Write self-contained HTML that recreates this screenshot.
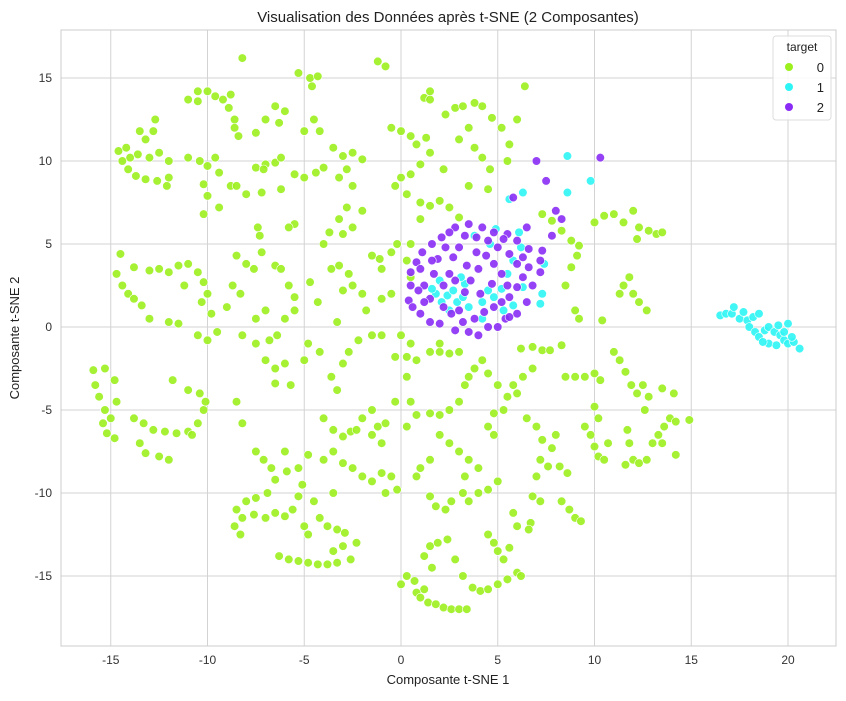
<!DOCTYPE html>
<html><head><meta charset="utf-8"><style>
body{margin:0;background:#fff;font-family:"Liberation Sans",Arial,sans-serif;}
svg text{font-family:"Liberation Sans",Arial,sans-serif;}
</style></head><body>
<svg id="chart" width="846" height="696" xmlns="http://www.w3.org/2000/svg">
<rect width="846" height="696" fill="#fff"/>
<text x="448" y="22" text-anchor="middle" font-size="15" fill="#222">Visualisation des Données après t-SNE (2 Composantes)</text>
<text x="448" y="684" text-anchor="middle" font-size="13" fill="#222">Composante t-SNE 1</text>
<text x="19" y="338" text-anchor="middle" font-size="13" fill="#222" transform="rotate(-90 19 338)">Composante t-SNE 2</text>
<g id="grid"></g><g id="ticks"></g><g id="pts"></g>
<rect x="61" y="30" width="775" height="616" fill="none" stroke="#ccc" stroke-width="1"/>
<g>
<rect x="773" y="36" width="58" height="84" rx="3" fill="#fff" fill-opacity="0.85" stroke="#ddd"/>
<text x="802" y="51" text-anchor="middle" font-size="12" fill="#222">target</text>
<circle cx="789" cy="67" r="4" fill="#9cf01e"/><text x="824" y="72" text-anchor="end" font-size="13" fill="#222">0</text>
<circle cx="789" cy="87" r="4" fill="#2ef5f5"/><text x="824" y="92" text-anchor="end" font-size="13" fill="#222">1</text>
<circle cx="789" cy="107" r="4" fill="#8a2cf5"/><text x="824" y="112" text-anchor="end" font-size="13" fill="#222">2</text>
</g>
</svg>
<script>
const xTicks=[-15,-10,-5,0,5,10,15,20];
const yTicks=[-15,-10,-5,0,5,10,15];
const green=[[-14.6,10.6],[-14.4,10],[-14.1,9.5],[-13.7,9.1],[-13.2,8.9],[-12.6,8.8],[-12.1,8.5],[-14.2,10.8],[-13.6,10.4],[-13,10.2],[-12.5,10.5],[-13.2,11.3],[-12.8,11.8],[-12.7,12.5],[-13.5,11.8],[-14,10.2],[-12,10],
[-11,13.7],[-10.5,14.2],[-10,14.2],[-9.6,13.9],[-9.2,13.7],[-8.9,13.2],[-8.6,12.5],[-8.4,11.5],[-8.6,12],[-8.8,14],[-8.2,16.2],[-10.5,13.6],
[-11,10.2],[-10.4,10],[-10,9.7],[-9.6,10.2],[-10.2,8.6],[-10,7.9],[-10.2,6.8],[-9.4,7.2],[-8.8,8.5],[-8,8],
[-7.5,9.6],[-7,9.8],[-6.5,9.9],[-6.2,10.2],[-7.1,9.5],[-5.5,9.2],[-5,9],[-4.4,9.3],[-4,9.6],[-7.2,8.1],[-6.2,8.3],
[-5.3,15.3],[-4.7,15],[-4.3,15.1],[-4.6,14.5],[-6.5,13.3],[-6,13],[-6.3,12.3],[-7.5,11.7],[-7,12.5],
[-4.2,11.8],[-3.5,10.8],[-3,10.3],[-2.5,10.5],[-2,10.1],[-2.8,9.5],[-3.2,9],[-2.5,8.5],[-2,7],[-2.8,7.2],[-3.2,6.5],[-3.7,5.7],[-4,5],[-2.5,6],
[-1.2,16],[-0.8,15.7],[-0.5,12],[0,11.8],[0.5,11.5],[0.8,11],[1.3,11.4],[0,9],[0.5,9.2],[0.3,8],[-0.3,8.5],[1,9.8],[1.5,10.5],
[1.2,13.8],[1.5,14.2],[1.5,13.7],[2.3,12.8],[2.8,13.2],[3.2,13.3],[3.8,13.5],[4.2,13.3],[4.7,12.6],[5.2,12],[5.6,11],[3,11.3],[3.8,10.8],[4.6,9.5],[4.2,10.2],[3.5,12],[6.4,14.5],[6,12.5],[5.5,10],
[1,7.5],[1.5,7.3],[2,7.6],[2.5,7.2],[3,6.6],[-0.2,5],[0.5,5],[0.3,4],[-0.5,4.5],[0.5,3],[1,6.5],
[7.3,6.8],[7.8,6.4],[8.3,5.8],[8.8,5.2],[9.2,4.9],[9.1,4.3],[8.8,3.6],[10,6.3],[10.5,6.7],[11,6.8],[11.5,6.3],[12,7],[12.3,6],[12.8,5.8],[13.2,5.6],[13.5,5.7],[12.2,5.3],[11.8,3],[11.5,2.5],[12,2],[12.3,1.5],[12.7,1],[11.3,2],[10.4,0.4],[9,1],[9.2,0.5],[8.5,2.5],
[-14.7,3.2],[-14.4,2.5],[-14.1,2],[-13.8,1.7],[-13.4,1.3],[-13,0.5],[-14.5,4.4],[-13.8,3.6],[-13,3.4],[-12.5,3.5],[-12,3.3],[-11.5,3.7],[-11,3.8],[-10.5,3.3],[-10.2,2.7],[-10,2],[-10.3,1.5],[-11.2,2.5],[-12,0.3],[-11.5,0.2],[-10.5,-0.5],[-10,-0.8],[-9.5,-0.3],[-9.8,0.8],
[-8.5,4.3],[-8,3.8],[-7.6,3.5],[-7.3,5.5],[-7.4,6],[-7.2,4.5],[-6.5,3.7],[-6.2,3.5],[-5.8,2.5],[-5.5,1.8],[-5.5,1],[-6,0.5],[-7,1],[-7.5,0.5],[-8.3,2],[-8.7,2.5],[-9,1.2],[-8.2,-0.5],[-7.5,-1],[-6.8,-0.8],[-6.4,-0.5],[-4.3,1.5],[-4.7,2.7],
[-3.6,3.5],[-3.2,3.7],[-2.7,3.2],[-2.5,2.5],[-3,2.2],[-2,2],[-1.8,1],[-1,1.7],[-1,3.5],[-3.3,0.3],[-2.2,-0.8],[-1.5,-0.5],
[-15.8,-3.5],[-15.6,-4.2],[-15.3,-5],[-15.4,-5.8],[-15.2,-6.4],[-14.8,-6.7],[-15.9,-2.6],[-15.3,-2.5],[-14.8,-3.2],[-14.7,-4.5],[-15,-5.5],
[-13.8,-5.5],[-13.3,-5.8],[-12.8,-6.2],[-12.2,-6.3],[-11.6,-6.4],[-11,-6.3],[-10.5,-5.8],[-10.2,-5],[-10.1,-4.5],[-10.4,-4],[-11,-3.8],[-11.8,-3.2],[-13.5,-7],[-13.2,-7.6],[-12.5,-7.8],[-12,-8],[-10.8,-6.5],
[-8.5,-4.5],[-8.2,-5.8],[-7,-2],[-6.5,-2.5],[-6,-2.2],[-5.7,-3.5],[-6.5,-3.4],[-5,-2],[-4.8,-1],[-4.2,-1.5],[-3.6,-3],[-3.3,-3.8],[-3,-2.2],[-2.7,-1.5],
[-4,-5.5],[-3.5,-6.2],[-3,-6.6],[-2.6,-6.3],[-2,-5.5],[-1.5,-5],[-1.2,-6],[-1,-7],[-0.8,-5.8],[-1.5,-6.5],
[-7.5,-7.5],[-7.1,-8],[-6.7,-8.5],[-6.5,-9.2],[-6.9,-10],[-7.5,-10.3],[-8,-10.5],[-8.5,-11],[-8.2,-11.5],[-8.6,-12],[-8.3,-12.5],[-7.6,-11.3],[-7,-11.5],[-6.5,-11.2],[-6,-11.4],[-5.6,-11],[-5.3,-10.2],[-5.1,-9.5],[-5.3,-8.5],[-5.9,-8.7],[-6,-7.5],[-4.8,-7.7],
[-4,-8],[-3.5,-7.5],[-3,-8.2],[-2.5,-8.5],[-2,-9],[-1.5,-9.3],[-1,-8.8],[-0.5,-9],[-0.8,-10],[-0.2,-9.8],[-2.3,-6.2],[-3.5,-10],[-4.5,-10.5],[-4.2,-11.5],[-3.8,-12],[-3.3,-12.2],[-2.9,-12.4],[-4.8,-12.5],[-5,-12],
[-6.3,-13.8],[-5.8,-14],[-5.3,-14.1],[-4.8,-14.2],[-4.3,-14.3],[-3.8,-14.3],[-3.3,-14.2],[-2.6,-14],[-3,-13.2],[-3.5,-13.5],[-2.3,-13],
[0.3,-1.8],[0.8,-2],[1.5,-1.5],[2,-1.5],[2.5,-1.6],[3,-1.5],[0.5,-1],[-0.3,-1.8],[0.3,-3],[0.5,-4.5],[0.8,-5.3],[1.5,-5.2],[2,-5.3],[2.5,-5],[3,-4.5],[3.3,-3.5],[3.5,-3],[3.8,-2.5],[4.2,-2],[4.5,-2.8],[5,-3.5],[5.5,-4.2],[5.3,-5],[4.8,-5.2],[4.5,-6],[4.8,-6.5],[2,-6.5],[2.5,-7],[3,-7.5],[3.5,-8],[4,-8.5],[3.3,-9],[3.2,-10],[3.5,-10.5],[4,-10],[4.5,-9.8],[5,-9.3],[1.5,-8],[1,-8.5],[0.8,-9],[1.5,-10.2],[1.8,-10.8],[2.3,-11],[2.6,-10.5],[0.3,-6],[-0.3,-4.5],
[5.8,-3.5],[6,-4],[6.3,-3],[6.8,-2.5],[6.2,-1.3],[6.8,-1.2],[7.3,-1.4],[7.7,-1.4],[8.3,-1.1],[8.5,-3],[9,-3],[9.5,-3],[10,-2.8],[10.3,-3.2],[6.5,-5.5],[7,-6],[7.3,-6.8],[7.8,-7.3],[8,-6.5],[7.2,-8],[7.6,-8.4],[8.2,-8.4],[8.6,-8.8],[7,-9],[6.8,-10.2],[7.2,-10.5],[8.3,-10.5],[8.7,-11],[9,-11.5],[9.3,-11.7],[6.7,-11.8],[6,-12],[5.8,-11.2],[6.6,-12.2],
[9.5,-6],[9.8,-6.5],[10,-7.2],[10.2,-7.8],[10.5,-8],[10.7,-7],[10.2,-5.5],[10,-4.8],[11,-1.5],[11.3,-2],[11.6,-2.7],[11.9,-3.5],[12.2,-4],[12.5,-3.5],[12.8,-4.2],[12.6,-5],[11.7,-6.2],[11.8,-7],[12,-8],[11.6,-8.3],[12.3,-8.2],[12.7,-8],[13,-7],[13.3,-6.5],[13.6,-6],[13.9,-5.5],[14.2,-5.7],[13.5,-7],[13.5,-3.7],[14.1,-4],[14.2,-7.7],[14.9,-5.6],
[0,-15.5],[0.3,-15],[0.7,-15.3],[1.2,-15.8],[0.8,-16],[1,-16.3],[1.4,-16.6],[1.8,-16.7],[2.2,-16.9],[2.6,-17],[3,-17],[3.4,-17],[1.6,-14.5],[1.2,-13.8],[1.5,-13.2],[1.9,-13],[2.4,-12.8],[3.2,-15],[3.7,-15.7],[4.1,-15.9],[4.5,-15.8],[5,-15.5],[5.5,-15.2],[6,-14.8],[6.2,-15],[4.5,-12.5],[4.8,-13],[5,-13.5],[5.3,-14],[5.6,-13.3],[2.8,-14],
[3.5,8.5],[4.5,8.3],[2.2,9.5],[-0.5,2],[0,-0.5],[-1,-0.5],[2,-1],[-5,11.8],[-4.5,12.5],[-8.5,8.5],[-12,9],[-9.4,9.3],[-5.5,6.2],[-5.8,6],[-3,5.6],[-1.5,4.3],[-1.1,4.1]];
const cyan=[[1.8,2],[2.1,1.5],[2.4,1.9],[2.7,2.2],[2.9,1.5],[3.2,1.8],[3.3,2.6],[3.5,1.2],[2.5,1],[2,2.8],[4.2,1.5],[4.5,2.2],[4.8,1.8],[5.2,2.3],[5.5,3.2],[5.8,4],[6.1,5.7],[6.2,4.8],[4.6,5],[4.9,5.9],[3.8,5.5],[3.1,3],[1.6,2.3],[5.8,1.3],[4.2,0.5],[6.3,2.4],[7.3,2],[7.4,3.8],[7.2,1.4],[5.3,1],
[8.6,10.3],[9.8,8.8],[6.3,8.1],[8.6,8.1],[5.6,7.7],
[16.5,0.7],[16.8,0.8],[17.1,0.8],[17.2,1.2],[17.5,0.5],[17.7,0.9],[17.9,0.4],[18.2,0.6],[18.5,0.8],[18,0],[18.3,-0.3],[18.5,-0.6],[18.8,-0.2],[19,0],[19.3,-0.3],[19.6,-0.5],[19.8,-0.8],[20,-1],[20.3,-0.9],[20.6,-1.3],[19,-1],[19.4,-1.1],[20,0.2],[19.8,-0.3],[18.7,-0.9],[20.2,-0.6],[19.5,0.1]];
const purple=[[0.5,3.3],[0.5,2.5],[0.4,1.6],[0.6,1.2],[1,0.8],[1.5,0.3],[2,0.2],[2.8,-0.2],[3.5,-0.3],[4,-0.5],[4.5,0],[5,0],[5.4,0.5],[6,0.8],[6.5,1.5],[6.8,2.5],[7.2,3.3],[7.2,4],[6.6,4.7],[6,5.2],[5.5,5.6],[4.8,5.7],[4.2,6],[3.5,6.2],[2.8,6],[2.1,5.4],[1.6,5],[1.1,4.5],[0.8,3.9],
[1,3.5],[1.2,2.5],[1.5,1.7],[1.2,1.5],[1.7,3.2],[1.9,4.1],[2.3,4.8],[2.7,4.2],[2.5,3.2],[2.2,2.5],[2.2,1.2],[2.6,0.8],[3,1],[3.2,0.3],[3.8,0.5],[4.3,0.9],[4.8,1.2],[5.2,1.5],[5.6,1.8],[6,2.4],[6.3,3],[6,3.8],[5.6,4.4],[5,4.8],[4.5,5.2],[3.9,5.4],[3.3,5.5],[3,4.8],[3.4,3.7],[3.6,2.8],[4,3.5],[4.4,4.3],[4.8,3.8],[5.2,3.2],[4.7,2.6],[4.1,2],[3.3,2.1],[2.8,2.8],[5.5,2.5],[6.6,3.6],[1.6,4],[0.9,2.2],[3.9,4.5],[5.3,5.3],[6.3,4.2],[2.5,5.7],[5.6,0.6],
[7,10],[7.5,8.8],[8.3,6.5],[8,7],[7.8,5.5],[10.3,10.2],[6.5,6],[5.8,7.8],[7.3,4.6]];
const NS='http://www.w3.org/2000/svg';
const sx=v=>401+v*19.35, sy=v=>327-v*16.6;
const grid=document.getElementById('grid'),ticks=document.getElementById('ticks'),pts=document.getElementById('pts');
function mk(tag,attrs,parent){const e=document.createElementNS(NS,tag);for(const k in attrs)e.setAttribute(k,attrs[k]);parent.appendChild(e);return e;}
xTicks.forEach(t=>{
 const l=mk('line',{x1:sx(t),x2:sx(t),y1:30,y2:646,stroke:'#d3d3d3'},grid);
 
 
 const tx=mk('text',{x:sx(t),y:664,'text-anchor':'middle','font-size':'12',fill:'#333'},ticks);tx.textContent=t;
 
 
});
yTicks.forEach(t=>{
 const l=mk('line',{x1:61,x2:836,y1:sy(t),y2:sy(t),stroke:'#d3d3d3'},grid);
 
 
 const tx=mk('text',{x:52,y:sy(t)+4,'text-anchor':'end','font-size':'12',fill:'#333'},ticks);tx.textContent=t;
 
 
});
function draw(arr,color,name){arr.forEach(p=>{
 const c=mk('circle',{cx:sx(p[0]),cy:sy(p[1]),r:4.3,fill:color,stroke:'#fff','stroke-width':'0.6','fill-opacity':'0.9'},pts);
 
 
});}
draw(green,'#9cf01e','point-target-0');
draw(cyan,'#2ef5f5','point-target-1');
draw(purple,'#8a2cf5','point-target-2');
</script>
</body></html>
